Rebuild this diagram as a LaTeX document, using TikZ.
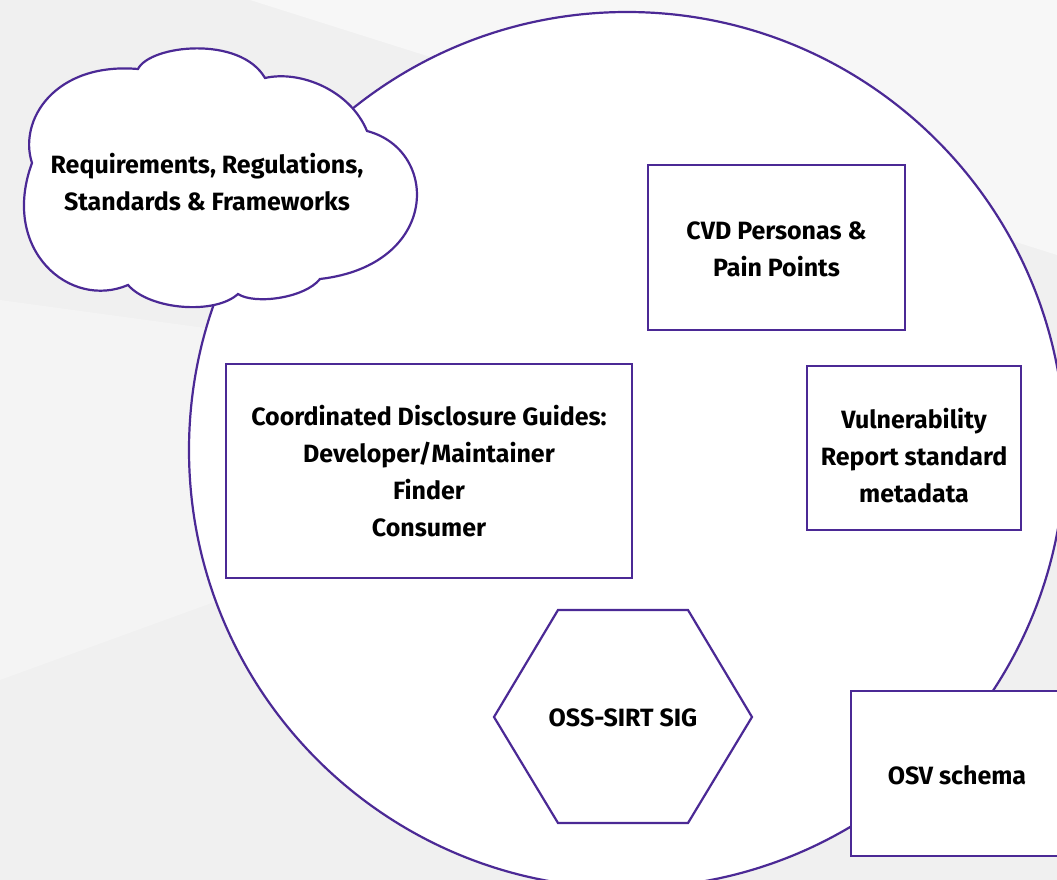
\documentclass[tikz,border=0pt]{standalone}
\usepackage{fontspec}
\setmainfont{Fira Sans}
\definecolor{pur}{HTML}{4B2995}
\definecolor{bg}{HTML}{F0F0F0}
\definecolor{bglight}{HTML}{F7F7F7}
\definecolor{bgmid}{HTML}{F4F4F4}
\tikzset{
  outline/.style={draw=pur, line width=2.2pt, fill=white},
  boxnode/.style={outline, rectangle, inner sep=0pt},
  lbl/.style={font=\bfseries\fontsize{25}{37}\selectfont, align=center, text=black, inner sep=0pt}
}
\begin{document}
\begin{tikzpicture}[x=1pt,y=-1pt]
\useasboundingbox (0,0) rectangle (1057,880);
\clip (0,0) rectangle (1057,880);
% background
\fill[bg] (0,0) rectangle (1057,880);
\fill[bglight] (250,0) -- (1057,0) -- (1057,255) -- cycle;
\fill[bgmid] (0,300) -- (220,330) -- (220,600) -- (0,680) -- cycle;
% big circle
\draw[outline] (627,450) circle[radius=438pt];
% cloud
\draw[outline] (32,163)
  .. controls (18,120) and (55,62) .. (138,69)
  .. controls (150,45) and (240,35) .. (265,78)
  .. controls (300,70) and (350,90) .. (367,131)
  .. controls (440,150) and (440,265) .. (320,279)
  .. controls (305,298) and (255,305) .. (238,294)
  .. controls (215,315) and (150,310) .. (128,285)
  .. controls (70,310) and (0,250) .. (32,163) -- cycle;
\node[lbl] (req) at (207,182) {Requirements, Regulations,\\Standards \& Frameworks};
% boxes
\node[boxnode, minimum width=257pt, minimum height=165pt] (cvd) at (776.5,247.5) {};
\node[lbl] (cvdtxt) at (776.5,249) {CVD Personas \&\\Pain Points};
\node[boxnode, minimum width=406pt, minimum height=214pt] (guides) at (429,471) {};
\node[lbl] (guidestxt) at (429,471) {Coordinated Disclosure Guides:\\Developer/Maintainer\\Finder\\Consumer};
\node[boxnode, minimum width=214pt, minimum height=164pt] (vuln) at (914,448) {};
\node[lbl] (vulntxt) at (914,456) {Vulnerability\\Report standard\\metadata};
\node[boxnode, minimum width=212pt, minimum height=165pt] (osv) at (957,773.5) {};
\node[lbl] (osvtxt) at (957,775) {OSV schema};
% hexagon
\draw[outline] (494,717) -- (558,610) -- (688,610) -- (752,717) -- (688,823) -- (558,823) -- cycle;
\node[lbl] (sig) at (623,718) {OSS-SIRT SIG};
\end{tikzpicture}
\end{document}
